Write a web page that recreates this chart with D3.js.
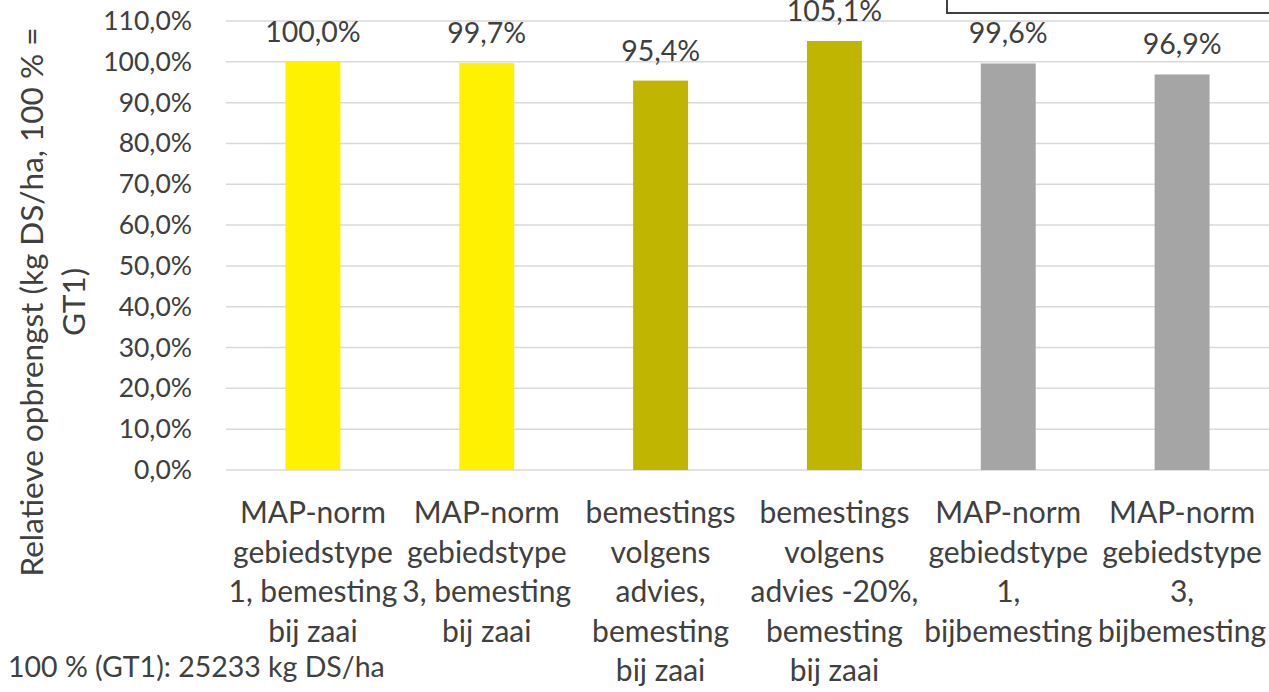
<!DOCTYPE html>
<html>
<head>
<meta charset="utf-8">
<script src="https://cdn.jsdelivr.net/npm/d3@7"></script>
<style>
  html, body { margin: 0; padding: 0; background: #fff; }
  svg { display: block; font-family: Lato, "Noto Sans", sans-serif; }
</style>
</head>
<body>
<div id="chart"></div>
<script>
// categories (one array of text lines per bar) and values in %
const categoryLines = [
    ['MAP-norm', 'gebiedstype', '1, bemesting', 'bij zaai'],
    ['MAP-norm', 'gebiedstype', '3, bemesting', 'bij zaai'],
    ['bemestings', 'volgens', 'advies,', 'bemesting', 'bij zaai'],
    ['bemestings', 'volgens', 'advies -20%,', 'bemesting', 'bij zaai'],
    ['MAP-norm', 'gebiedstype', '1,', 'bijbemesting'],
    ['MAP-norm', 'gebiedstype', '3,', 'bijbemesting']
];
const values = [100.0, 99.7, 95.4, 105.1, 99.6, 96.9];
const barColors = ['#FFF100', '#FFF100', '#C0B500', '#C0B500', '#A5A5A5', '#A5A5A5'];
const yTicks = [0, 10, 20, 30, 40, 50, 60, 70, 80, 90, 100, 110];
const yTitleLines = ['Relatieve opbrengst (kg DS/ha, 100 % =', 'GT1)'];
const footnote = '100 % (GT1): 25233 kg DS/ha';

const width = 1269, height = 692;
const margin = { top: 21, right: 0, bottom: 222, left: 226 };
const textColor = '#404040';
const fmt = v => v.toFixed(1).replace('.', ',') + '%';

const svg = d3.select('#chart').append('svg')
    .attr('width', width)
    .attr('height', height);

const x = d3.scaleBand()
    .domain(values.map((_, i) => i))
    .range([margin.left, width - margin.right])
    .paddingInner(0.684)
    .paddingOuter(0.342);

const y = d3.scaleLinear()
    .domain([0, 110])
    .range([height - margin.bottom, margin.top]);

// gridlines
svg.append('g')
    .selectAll('line')
    .data(yTicks)
    .join('line')
    .attr('x1', margin.left)
    .attr('x2', width - margin.right)
    .attr('y1', d => y(d))
    .attr('y2', d => y(d))
    .attr('stroke', '#D9D9D9')
    .attr('stroke-width', 1.5);

// y axis labels
const yAxis = svg.append('g')
    .attr('transform', `translate(${margin.left},0)`)
    .call(d3.axisLeft(y).tickValues(yTicks).tickSize(0).tickPadding(34).tickFormat(fmt));
yAxis.select('.domain').remove();
yAxis.selectAll('text')
    .attr('fill', textColor)
    .style('font-size', '26.5px')
    .style('font-family', 'Lato, "Noto Sans", sans-serif');

// bars
svg.append('g')
    .selectAll('rect')
    .data(values)
    .join('rect')
    .attr('x', (d, i) => x(i))
    .attr('y', d => y(d))
    .attr('width', x.bandwidth())
    .attr('height', d => y(0) - y(d))
    .attr('fill', (d, i) => barColors[i]);

// data labels
svg.append('g')
    .selectAll('text')
    .data(values)
    .join('text')
    .attr('x', (d, i) => x(i) + x.bandwidth() / 2)
    .attr('y', d => y(d) - 20)
    .attr('text-anchor', 'middle')
    .attr('fill', textColor)
    .style('font-size', '28.5px')
    .text(d => fmt(d));

// category labels
const cat = svg.append('g')
    .selectAll('text')
    .data(categoryLines)
    .join('text')
    .attr('text-anchor', 'middle')
    .attr('fill', textColor)
    .style('font-size', '30px');
cat.selectAll('tspan')
    .data((d, i) => d.map(t => ({ t, i })))
    .join('tspan')
    .attr('x', d => x(d.i) + x.bandwidth() / 2)
    .attr('y', (d, j) => 523 + j * 39.5)
    .text(d => d.t);

// y title
svg.append('g')
    .attr('transform', 'translate(0,302) rotate(-90)')
    .selectAll('text')
    .data(yTitleLines)
    .join('text')
    .attr('x', 0)
    .attr('y', (d, j) => 43 + j * 42)
    .attr('text-anchor', 'middle')
    .attr('fill', textColor)
    .style('font-size', '31.5px')
    .text(d => d);

// footnote
svg.append('text')
    .attr('x', 8)
    .attr('y', 677)
    .attr('fill', textColor)
    .style('font-size', '28.5px')
    .text(footnote);

// cropped text box at the top right
svg.append('rect')
    .attr('x', 947)
    .attr('y', -20)
    .attr('width', 400)
    .attr('height', 33)
    .attr('fill', 'none')
    .attr('stroke', '#404040')
    .attr('stroke-width', 2);
</script>
</body>
</html>
